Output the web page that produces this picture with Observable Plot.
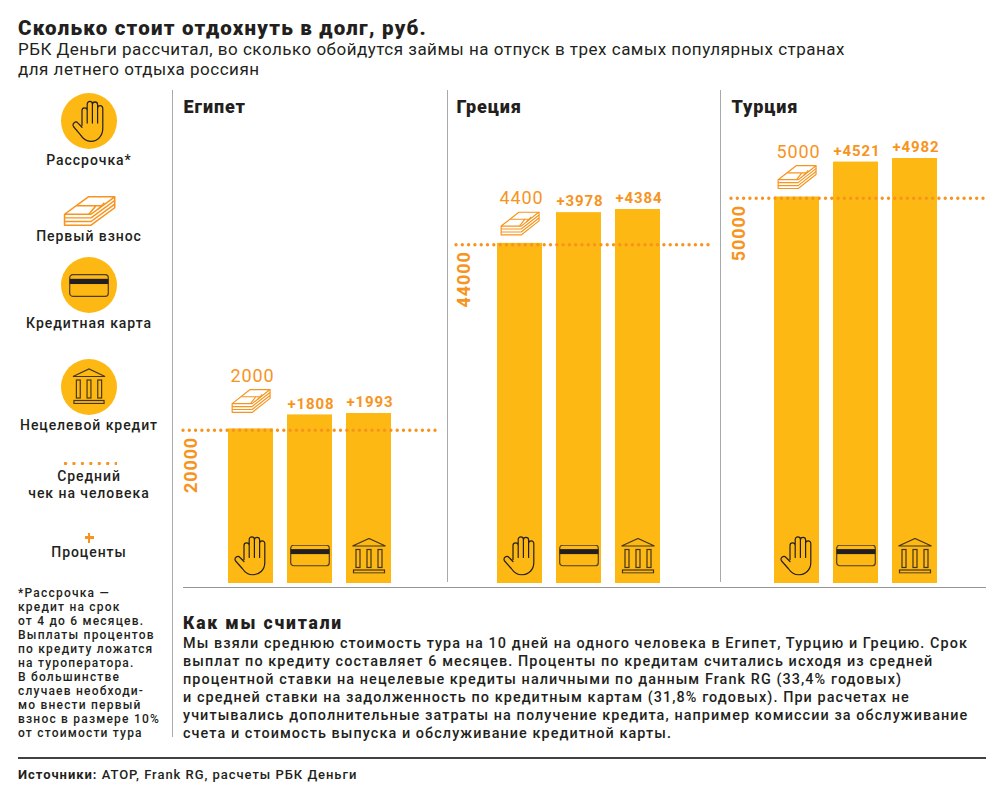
<!DOCTYPE html>
<html lang="ru">
<head>
<meta charset="utf-8">
<script src="https://cdn.jsdelivr.net/npm/d3@7"></script>
<script src="https://cdn.jsdelivr.net/npm/@observablehq/plot@0.6"></script>
<style>
html,body{margin:0;padding:0;background:#fff;}
#page{position:relative;width:1005px;height:798px;overflow:hidden;font-family:Roboto,sans-serif;color:#231f20;}
#page>*{position:absolute;}
.t{white-space:nowrap;}
svg.plot,#page svg{overflow:visible;}
</style>
</head>
<body>
<div id="page"></div>
<script>
// ---- data ----
const countries = ["Египет", "Греция", "Турция"];
const products = ["Рассрочка", "Кредитная карта", "Нецелевой кредит"];
const baseCost = [20000, 44000, 50000];
const firstPayment = [2000, 4400, 5000];
const cardInterest = [1808, 3978, 4521];
const creditInterest = [1993, 4384, 4982];

const titleText = "Сколько стоит отдохнуть в долг, руб.";
const subtitleLines = ["РБК Деньги рассчитал, во сколько обойдутся займы на отпуск в трех самых популярных странах", "для летнего отдыха россиян"];
const footnoteLines = ["*Рассрочка —", "кредит на срок", "от 4 до 6 месяцев.", "Выплаты процентов", "по кредиту ложатся", "на туроператора.", "В большинстве", "случаев необходи-", "мо внести первый", "взнос в размере 10%", "от стоимости тура"];
const methodTitle = "Как мы считали";
const methodLines = [
  "Мы взяли среднюю стоимость тура на 10 дней на одного человека в Египет, Турцию и Грецию. Срок",
  "выплат по кредиту составляет 6 месяцев. Проценты по кредитам считались исходя из средней",
  "процентной ставки на нецелевые кредиты наличными по данным Frank RG (33,4% годовых)",
  "и средней ставки на задолженность по кредитным картам (31,8% годовых). При расчетах не",
  "учитывались дополнительные затраты на получение кредита, например комиссии за обслуживание",
  "счета и стоимость выпуска и обслуживание кредитной карты."];

// ---- style ----
const AMBER = "#fdb813", ORANGE = "#f7941d", INK = "#231f20";
const FONT = "Roboto,sans-serif";
const uri = s => "data:image/svg+xml;utf8," + encodeURIComponent(s);
const icon = (w, h, body) => uri(`<svg xmlns="http://www.w3.org/2000/svg" viewBox="0 0 ${w} ${h}" width="${w*3}" height="${h*3}" preserveAspectRatio="none">${body}</svg>`);
const handIcon = icon(34, 40, `<path fill="none" stroke="${INK}" stroke-width="1.200" stroke-linecap="round" stroke-linejoin="round" d="M10 24V10a2.600 2.600 0 0 1 5.200 0V4a2.600 2.600 0 0 1 5.200 0V4.500a2.600 2.600 0 0 1 5.200 0V8a2.600 2.600 0 0 1 5.200 0V27c0 7-5 12.300-12 12.300-5 0-8-2.500-10.500-6.300L1.600 25.500c-2-3.300 2.200-6 4.400-3.500L10 26M15.200 10V22M20.400 4.500V22M25.600 8V22"/>`);
const cardIcon = icon(40, 22, `<rect x=".7" y=".7" width="38.600" height="20.600" rx="3" fill="none" stroke="${INK}" stroke-opacity=".8" stroke-width="1.200"/><rect x=".7" y="4.600" width="38.600" height="5" fill="${INK}"/>`);
const bankIcon = icon(35, 36, `<g fill="none" stroke="${INK}" stroke-opacity=".85" stroke-width="1.200"><path d="M1 8.500 17.500 1 34 8.500Z"/><rect x="4.500" y="12" width="4" height="18"/><rect x="15.500" y="12" width="4" height="18"/><rect x="26.500" y="12" width="4" height="18"/><rect x="2" y="32.500" width="31" height="3"/></g>`);
const stackIcon = icon(41, 25.500, `<g fill="none" stroke="${ORANGE}" stroke-width="1.200" stroke-linejoin="round"><path d="M1.200 15 19.600 .7H40L21.700 15Z"/><path d="M1.200 15v3H21.700L40 3.700V.7"/><path d="M1.200 18v3H21.700L40 6.700V3.700"/><path d="M1.200 21v3H21.700L40 9.700V6.700"/><path d="M10.500 8H30M25.500 8 20 15M32 5.500 27 11"/></g>`);

const page = document.getElementById("page");
function text(str, x, cy, size, opts = {}) {
  const d = document.createElement("div");
  d.className = "t";
  d.textContent = str;
  const lh = opts.lh || size * 1.1;
  d.style.cssText = `top:${cy - lh / 2}px;line-height:${lh}px;font-size:${size}px;font-weight:${opts.weight || 400};letter-spacing:${opts.ls || 0}px;color:${opts.color || INK};left:${x}px;`;
  if (opts.center) d.style.transform = "translateX(-50%)";
  page.appendChild(d);
  return d;
}
// letter spacing that makes a sample line as wide as it is in the reference
function spacingFor(str, size, weight, targetWidth) {
  const d = text(str, 0, 0, size, {weight});
  const w = d.getBoundingClientRect().width;
  d.remove();
  return (targetWidth - w) / str.length;
}
function box(x, y, w, h, bg) {
  const d = document.createElement("div");
  d.style.cssText = `left:${x}px;top:${y}px;width:${w}px;height:${h}px;background:${bg};`;
  page.appendChild(d);
  return d;
}
function img(src, cx, cy, w, h) {
  const i = document.createElement("img");
  i.src = src; i.alt = "";
  i.style.cssText = `left:${cx - w / 2}px;top:${cy - h / 2}px;width:${w}px;height:${h}px;`;
  page.appendChild(i);
}
function disc(cx, cy, r) {
  const d = box(cx - r, cy - r, 2 * r, 2 * r, AMBER);
  d.style.borderRadius = "50%";
}

// ---- header ----
text(titleText, 18, 28, 20.500, {weight: 900, ls: spacingFor(titleText, 20.500, 900, 409)});
const subLs = spacingFor(subtitleLines[0], 17, 400, 827);
subtitleLines.forEach((l, i) => text(l, 18, 49 + i * 20, 17, {ls: subLs}));

// ---- panels ----
const PANEL = [
  {left: 172, w: 275, a: 41.800, ml: 11, mr: 9,  topShift: 0},
  {left: 447, w: 273, a: 35.800, ml: 9,  mr: 8,  topShift: 8},
  {left: 720, w: 275, a: 39.800, ml: 11, mr: 10, topShift: 8}
];
const iconSrc = [handIcon, cardIcon, bankIcon];
const iconSize = [[34, 40], [40, 22], [35, 36]];

countries.forEach((country, c) => {
  const p = PANEL[c];
  const rows = products.map((product, k) => ({
    product,
    value: baseCost[c] + [0, cardInterest[c], creditInterest[c]][k],
    label: k === 0 ? String(firstPayment[c]) : "+" + [0, cardInterest[c], creditInterest[c]][k],
    k
  }));
  const first = rows.filter(r => r.k === 0), rest = rows.filter(r => r.k > 0);
  const chart = Plot.plot({
    width: p.w, height: 497,
    marginTop: 0, marginBottom: 4, marginLeft: p.ml, marginRight: p.mr,
    style: {background: "transparent", fontFamily: FONT, letterSpacing: "0.9px"},
    x: {domain: products, range: [p.a, p.a + 192.300], padding: 0.23, axis: null},
    y: {domain: [0, 63778], axis: null},
    marks: [
      Plot.barY(rows, {x: "product", y: "value", fill: AMBER}),
      Plot.ruleY([baseCost[c]], {stroke: ORANGE, strokeWidth: 3.400, strokeDasharray: "0,6.300", strokeLinecap: "round", dy: 1.300}),
      ...rows.map(r => Plot.image([r], {x: "product", y: () => 0, src: () => iconSrc[r.k], width: iconSize[r.k][0], height: iconSize[r.k][1], dy: -28})),
      Plot.image(first, {x: "product", y: "value", src: () => stackIcon, width: 40, height: 25, dy: -27.500 + p.topShift}),
      Plot.text(first, {x: "product", y: "value", text: "label", fontSize: 18, fill: ORANGE, lineAnchor: "middle", dx: 1.500, dy: -53 + p.topShift}),
      Plot.text(rest, {x: "product", y: "value", text: "label", fontSize: 15, fontWeight: 700, fill: ORANGE, lineAnchor: "middle", dx: 1, dy: -11}),
      Plot.text([baseCost[c]], {y: d => d, text: d => String(d), frameAnchor: "left", rotate: -90, textAnchor: "end", lineAnchor: "middle", fontSize: 18, fontWeight: 700, fill: ORANGE, dx: 8, dy: 8}),
      Plot.text([country], {text: d => d, frameAnchor: "top-left", lineAnchor: "middle", fontSize: 18, fontWeight: 900, fill: INK, dy: 17})
    ]
  });
  chart.style.left = p.left + "px";
  chart.style.top = "90px";
  page.appendChild(chart);
});

// ---- separators ----
box(171.500, 90, 1.500, 647, "#a7a9ac");
box(446.500, 90, 1.500, 492, "#a7a9ac");
box(719.500, 90, 1.500, 492, "#a7a9ac");
box(183, 586.500, 803, 1.200, "#939598");
box(18, 757, 968, 2.400, "#414042");

// ---- legend ----
const CX = 89;
const LEG = {center: true, ls: spacingFor("Нецелевой кредит", 14, 500, 138), weight: 500};
disc(CX, 121, 28); img(handIcon, CX, 121, 34, 42);
text("Рассрочка*", CX, 161, 14, LEG);
img(stackIcon, CX + .5, 211, 53, 31);
text("Первый взнос", CX, 237, 14, LEG);
disc(CX, 285, 28); img(cardIcon, CX, 285, 40, 23);
text("Кредитная карта", CX, 324, 14, LEG);
disc(CX, 387, 28); img(bankIcon, CX, 386, 34, 36);
text("Нецелевой кредит", CX, 426, 14, LEG);
const dots = box(64, 461.500, 53, 3.200, "transparent");
dots.style.background = `radial-gradient(circle at 1.600px 1.600px, ${ORANGE} 1.500px, transparent 1.800px) 0 0/8.450px 3.200px repeat-x`;
text("Средний", CX, 477, 14, LEG);
text("чек на человека", CX, 494, 14, LEG);
box(84.500, 536.300, 9.500, 2.400, ORANGE);
box(88, 533, 2.400, 9.500, ORANGE);
text("Проценты", CX, 553, 14, LEG);

// ---- footnote ----
const footLs = spacingFor("взнос в размере 10%", 12, 500, 142);
footnoteLines.forEach((l, i) => text(l, 18, 594 + i * 14, 12, {ls: footLs, weight: 500}));

// ---- method ----
text(methodTitle, 183, 624, 17.500, {weight: 900, ls: spacingFor(methodTitle, 17.500, 900, 160)});
const methodLs = spacingFor(methodLines[0], 14.400, 500, 785);
methodLines.forEach((l, i) => text(l, 183, 644 + i * 17.900, 14.400, {ls: methodLs, weight: 500}));

// ---- sources ----
const srcLine = "Источники: АТОР, Frank RG, расчеты РБК Деньги";
const src = text("", 18, 775, 13, {ls: spacingFor(srcLine, 13, 500, 339), weight: 500});
const b = document.createElement("b"); b.textContent = srcLine.slice(0, 10);
src.appendChild(b);
src.appendChild(document.createTextNode(srcLine.slice(10)));
</script>
</body>
</html>
